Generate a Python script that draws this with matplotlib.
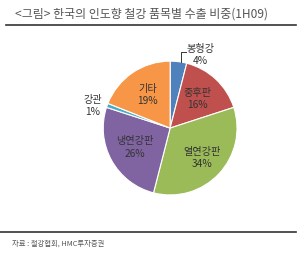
import numpy as np
import matplotlib.pyplot as plt
from matplotlib.lines import Line2D

plt.rcParams['font.family'] = ['Noto Sans CJK KR', 'DejaVu Sans']

categories = ["봉형강", "중후판", "열연강판", "냉연강판", "강관", "기타"]
shares = [4, 16, 34, 26, 1, 19]
colors = ["#4F81BD", "#C0504D", "#9BBB59", "#8064A2", "#4BACC6", "#F79646"]

fig = plt.figure(figsize=(2.99, 2.6), dpi=100)

# title and rules
fig.text(0.05, 0.945, "<그림> 한국의 인도향 철강 품목별 수출 비중(1H09)",
         fontsize=8.6, color="#555555", va="center", ha="left")
fig.add_artist(Line2D([0.02, 0.99], [0.905, 0.905], color="#333333", lw=1.2))
fig.add_artist(Line2D([0.0, 0.99], [0.108, 0.108], color="#333333", lw=1.2))
fig.text(0.04, 0.062, "자료 : 철강협회, HMC투자증권", fontsize=5.3,
         color="#555555", va="center", ha="left")

ax = fig.add_axes([0.278, 0.173, 0.582, 0.669])
wedges, _ = ax.pie(shares, colors=colors, startangle=90, counterclock=False,
                   wedgeprops=dict(edgecolor="white", linewidth=0.8))
ax.set_xlim(-1.3, 1.3)
ax.set_ylim(-1.3, 1.3)
ax.set_aspect("equal")

fs = 7.3
for w, name, val in zip(wedges, categories, shares):
    ang = np.deg2rad((w.theta1 + w.theta2) / 2)
    if name == "봉형강":
        ax.text(0.45, 1.09, f"{name}\n{val}%", ha="center", va="center",
                fontsize=fs, color="#333333", linespacing=1.3)
        ax.plot([0.16, 0.16, 0.24], [0.99, 1.13, 1.13], color="#333333", lw=0.7)
    elif name == "강관":
        ax.text(-1.16, 0.33, f"{name}\n{val}%", ha="center", va="center",
                fontsize=fs, color="#333333", linespacing=1.3)
    else:
        r = 0.66 if name == "열연강판" else 0.6
        ax.text(r * np.cos(ang), r * np.sin(ang), f"{name}\n{val}%",
                ha="center", va="center", fontsize=fs, color="#333333",
                linespacing=1.3)

plt.savefig("out.png", dpi=100)
plt.close()
